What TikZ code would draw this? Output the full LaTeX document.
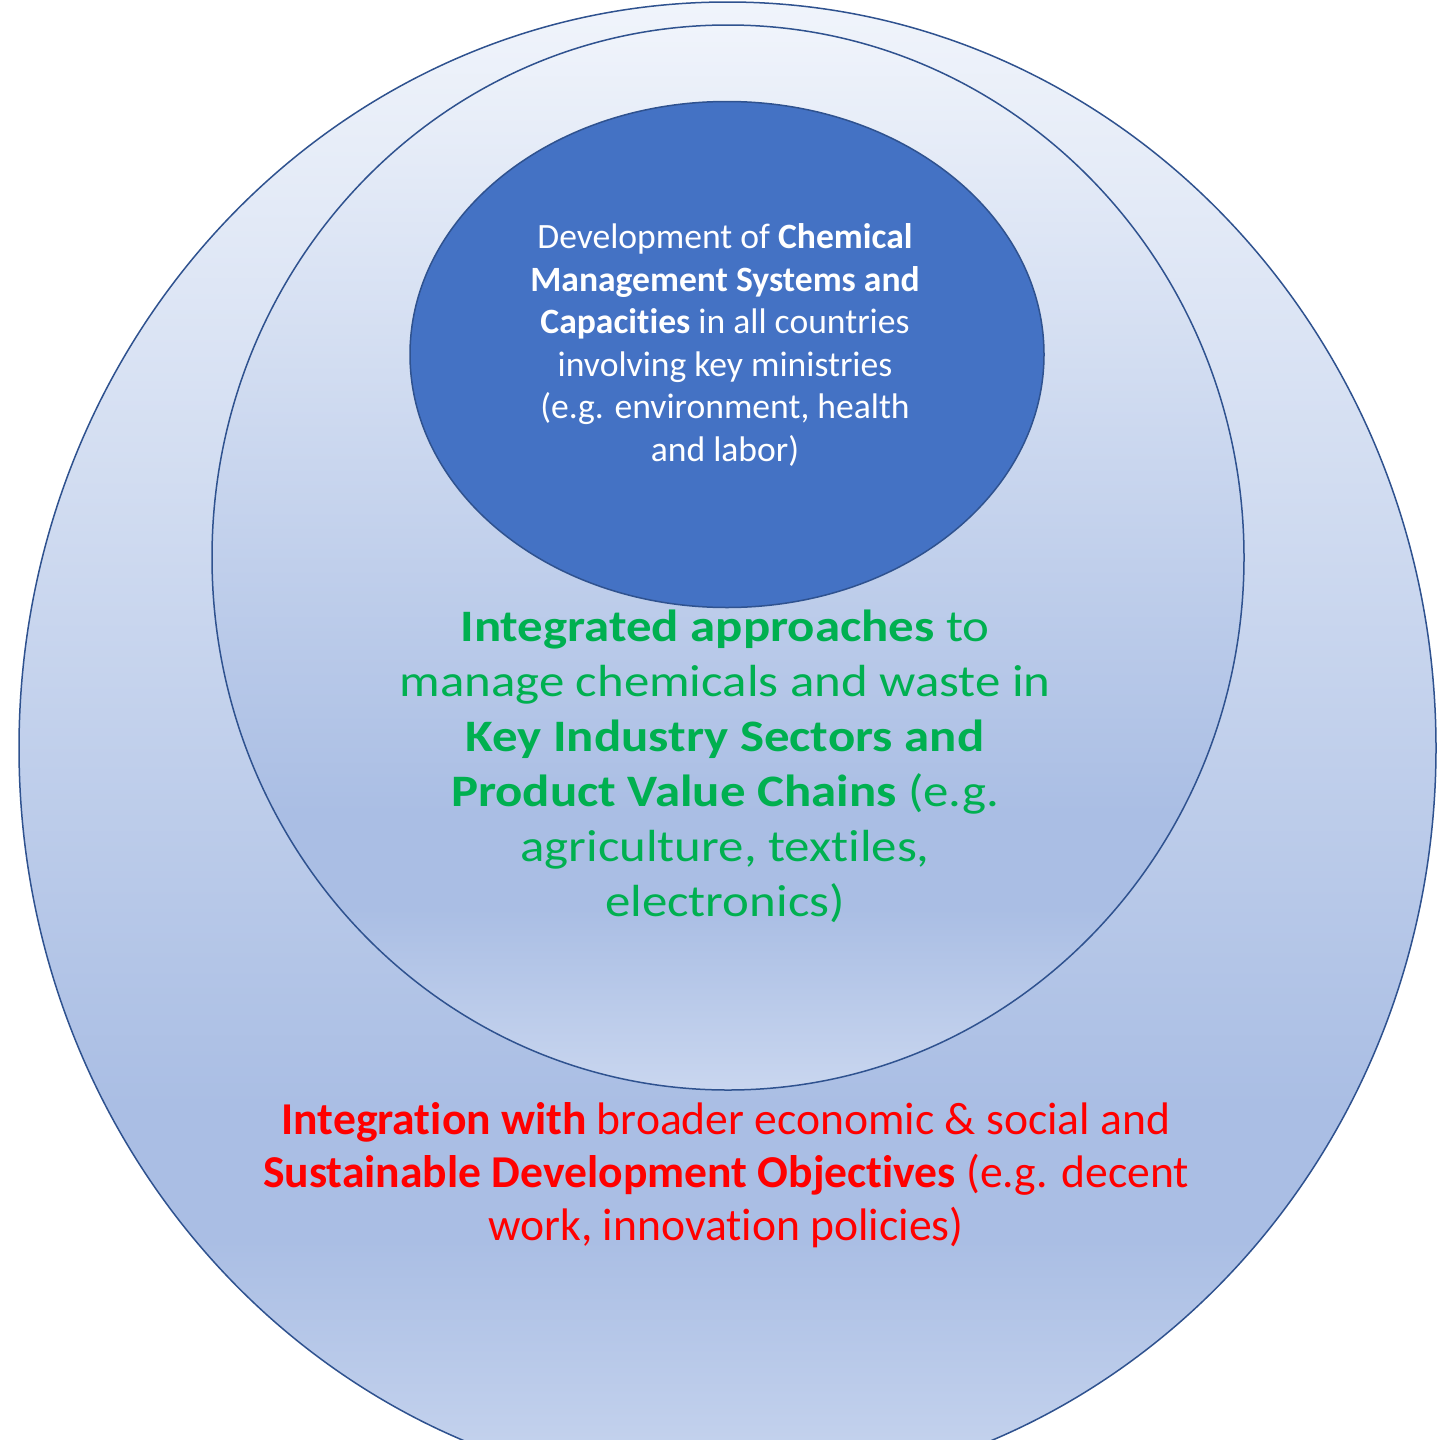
\documentclass[tikz,border=0pt]{standalone}
\usepackage{fontspec}
\setmainfont{Carlito}[Ligatures=NoCommon]
\newfontfamily\widefont{Carlito}[FakeStretch=1.13, Ligatures=NoCommon]
\usetikzlibrary{shapes.geometric}

\definecolor{ringline}{HTML}{2F528F}
\definecolor{corefill}{HTML}{4472C4}
\definecolor{gradtop}{HTML}{F0F4FB}
\definecolor{gradmid}{HTML}{AABEE4}
\definecolor{gradbot}{HTML}{C9D6EF}
\definecolor{sectorgreen}{HTML}{00B050}
\definecolor{goalred}{HTML}{FF0000}

% light-to-dark-to-light fill of the two outer rings (bottom at 25bp, top at 75bp)
\pgfdeclareverticalshading{ringshade}{100bp}{%
  color(0bp)=(gradbot); color(25bp)=(gradbot);
  color(33.5bp)=(gradmid); color(38bp)=(gradmid);
  color(75bp)=(gradtop); color(100bp)=(gradtop)}

\tikzset{
  ring/.style={ellipse, draw=ringline, line width=0.75pt, inner sep=0pt,
    shading=ringshade},
  core/.style={ellipse, draw=ringline, line width=0.75pt, inner sep=0pt,
    fill=corefill},
  coretext/.style={align=center, text=white, inner sep=0pt,
    font=\fontsize{17.8}{21.25}\selectfont},
  sectortext/.style={align=center, text=sectorgreen, inner sep=0pt,
    font=\widefont\fontsize{22.5}{27.5}\selectfont},
  goaltext/.style={align=center, text=goalred, inner sep=0pt,
    font=\fontsize{22.8}{26.5}\selectfont},
}

\begin{document}
\begin{tikzpicture}[x=0.5pt, y=-0.5pt]
  \useasboundingbox (0,0) rectangle (1438,1440);
  \fill[white] (0,0) rectangle (1438,1440);
  \clip (0,0) rectangle (1438,1440);

  % nested rings
  \node[ring, minimum width=708.5pt, minimum height=746pt] (outer) at (727.5,748) {};
  \node[ring, minimum width=516pt, minimum height=532.5pt] (middle) at (728,557.5) {};
  \node[core, minimum width=317pt, minimum height=253pt] (inner) at (727,354.5) {};

  % labels
  \node[coretext] (coretxt) at (725,345) {Development of \textbf{Chemical}\\
    \textbf{Management Systems and}\\
    \textbf{Capacities} in all countries\\
    involving key ministries\\
    (e.g. environment, health\\
    and labor)};

  \node[sectortext] (sectortxt) at (725,766) {\textbf{Integrated approaches} to\\
    manage chemicals and waste in\\
    \textbf{Key Industry Sectors and}\\
    \textbf{Product Value Chains} (e.g.\\
    agriculture, textiles,\\
    electronics)};

  \node[goaltext] (goaltxt) at (726,1175) {\textbf{Integration with} broader economic \& social and\\
    \textbf{Sustainable Development Objectives} (e.g. decent\\
    work, innovation policies)};
\end{tikzpicture}
\end{document}
